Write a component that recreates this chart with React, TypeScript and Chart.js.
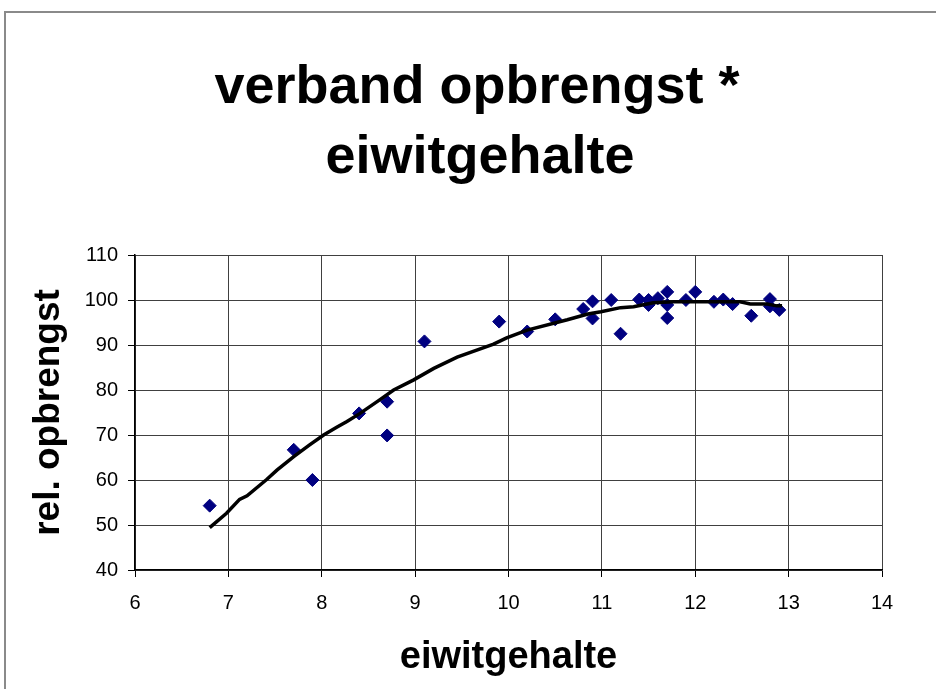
import React, { useEffect, useRef } from "react";
import { Chart, registerables } from "chart.js";

Chart.register(...registerables);

const titleLines = ["verband opbrengst *", "eiwitgehalte"];
const xAxisTitle = "eiwitgehalte";
const yAxisTitle = "rel. opbrengst";

const pointX = [6.8, 7.7, 7.9, 8.4, 8.7, 8.7, 9.1, 9.9, 10.2, 10.5, 10.8, 10.9, 10.9, 11.1, 11.2, 11.4, 11.5, 11.5, 11.6, 11.7, 11.7, 11.7, 11.9, 12.0, 12.2, 12.3, 12.4, 12.6, 12.8, 12.8, 12.9];
const pointY = [54.3, 66.7, 60.0, 74.8, 77.4, 69.9, 90.8, 95.2, 93.0, 95.7, 98.0, 99.7, 95.9, 100.0, 92.5, 100.1, 100.0, 98.9, 100.4, 101.8, 98.9, 96.0, 100.0, 101.8, 99.6, 100.1, 99.1, 96.5, 100.2, 98.6, 97.8];

const trendX = [6.8, 6.98, 7.12, 7.2, 7.41, 7.52, 7.7, 7.87, 8.02, 8.16, 8.27, 8.41, 8.62, 8.77, 8.98, 9.2, 9.45, 9.84, 9.98, 10.2, 10.63, 10.85, 10.99, 11.2, 11.34, 11.55, 11.77, 12.48, 12.59, 12.77, 12.87, 12.93];
const trendY = [49.4, 52.6, 55.7, 56.5, 60.1, 62.2, 65.2, 67.8, 70.0, 71.7, 73.0, 74.8, 77.8, 80.0, 82.2, 84.8, 87.3, 90.2, 91.6, 93.3, 95.6, 96.9, 97.4, 98.3, 98.5, 99.4, 99.6, 99.6, 99.1, 99.1, 98.7, 98.7];

const xMin = 6, xMax = 14, xStep = 1;
const yMin = 40, yMax = 110, yStep = 10;

const FONT = '"Liberation Sans", Arial, sans-serif';

const titlePlugin = {
  id: "bigTitle",
  afterDraw(chart: any) {
    const ctx = chart.ctx;
    ctx.save();
    ctx.fillStyle = "#000";
    ctx.font = `bold 54px ${FONT}`;
    ctx.textAlign = "center";
    ctx.textBaseline = "alphabetic";
    ctx.fillText(titleLines[0], 477, 103);
    ctx.fillText(titleLines[1], 480, 173);
    ctx.restore();
  },
};

export default function App() {
  const ref = useRef<HTMLCanvasElement | null>(null);
  useEffect(() => {
    if (!ref.current) return;
    const chart = new Chart(ref.current, {
      type: "scatter",
      data: {
        datasets: [
          {
            type: "line",
            label: "trend",
            data: trendX.map((x, i) => ({ x, y: trendY[i] })),
            borderColor: "#000",
            borderWidth: 3.5,
            pointRadius: 0,
            fill: false,
            tension: 0,
          } as any,
          {
            label: "data",
            data: pointX.map((x, i) => ({ x, y: pointY[i] })),
            pointStyle: "rectRot",
            pointRadius: 6.5,
            pointBackgroundColor: "#000080",
            pointBorderColor: "#000080",
            pointBorderWidth: 1,
            showLine: false,
          },
        ],
      },
      options: {
        animation: false,
        responsive: false,
        devicePixelRatio: 1,
        layout: { padding: { left: 0, right: 54, top: 255, bottom: 0 } },
        plugins: { legend: { display: false }, tooltip: { enabled: false }, title: { display: false } },
        scales: {
          x: {
            type: "linear",
            min: xMin,
            max: xMax,
            afterFit: (s: any) => { s.height = 119; },
            ticks: { stepSize: xStep, color: "#000", font: { family: FONT, size: 20 }, padding: 14 },
            grid: { color: "#404040", lineWidth: 1, tickLength: 7, tickColor: "#000" },
            border: { color: "#000", width: 1.5 },
            title: { display: true, text: xAxisTitle, color: "#000", font: { family: FONT, size: 38, weight: "bold", lineHeight: 1.2 }, padding: { top: 0, bottom: 9 } },
          },
          y: {
            type: "linear",
            min: yMin,
            max: yMax,
            afterFit: (s: any) => { s.width = 135; },
            ticks: { stepSize: yStep, color: "#000", font: { family: FONT, size: 20 }, padding: 10 },
            grid: { color: "#404040", lineWidth: 1, tickLength: 7, tickColor: "#000" },
            border: { color: "#000", width: 1.5 },
            title: { display: true, text: yAxisTitle, color: "#000", font: { family: FONT, size: 37, weight: "bold", lineHeight: 1.2 }, padding: { top: 27, bottom: 0 } },
          },
        },
      },
      plugins: [titlePlugin],
    });
    return () => chart.destroy();
  }, []);

  return (
    <div style={{ position: "fixed", left: 0, top: 0, width: 936, height: 689, overflow: "hidden", background: "#fff" }}>
      <div style={{ position: "absolute", left: 4, top: 11, width: 2000, height: 2000, borderLeft: "2px solid #8a8a8a", borderTop: "2px solid #8a8a8a" }} />
      <canvas ref={ref} width={936} height={689} style={{ position: "absolute", left: 0, top: 0 }} />
    </div>
  );
}
